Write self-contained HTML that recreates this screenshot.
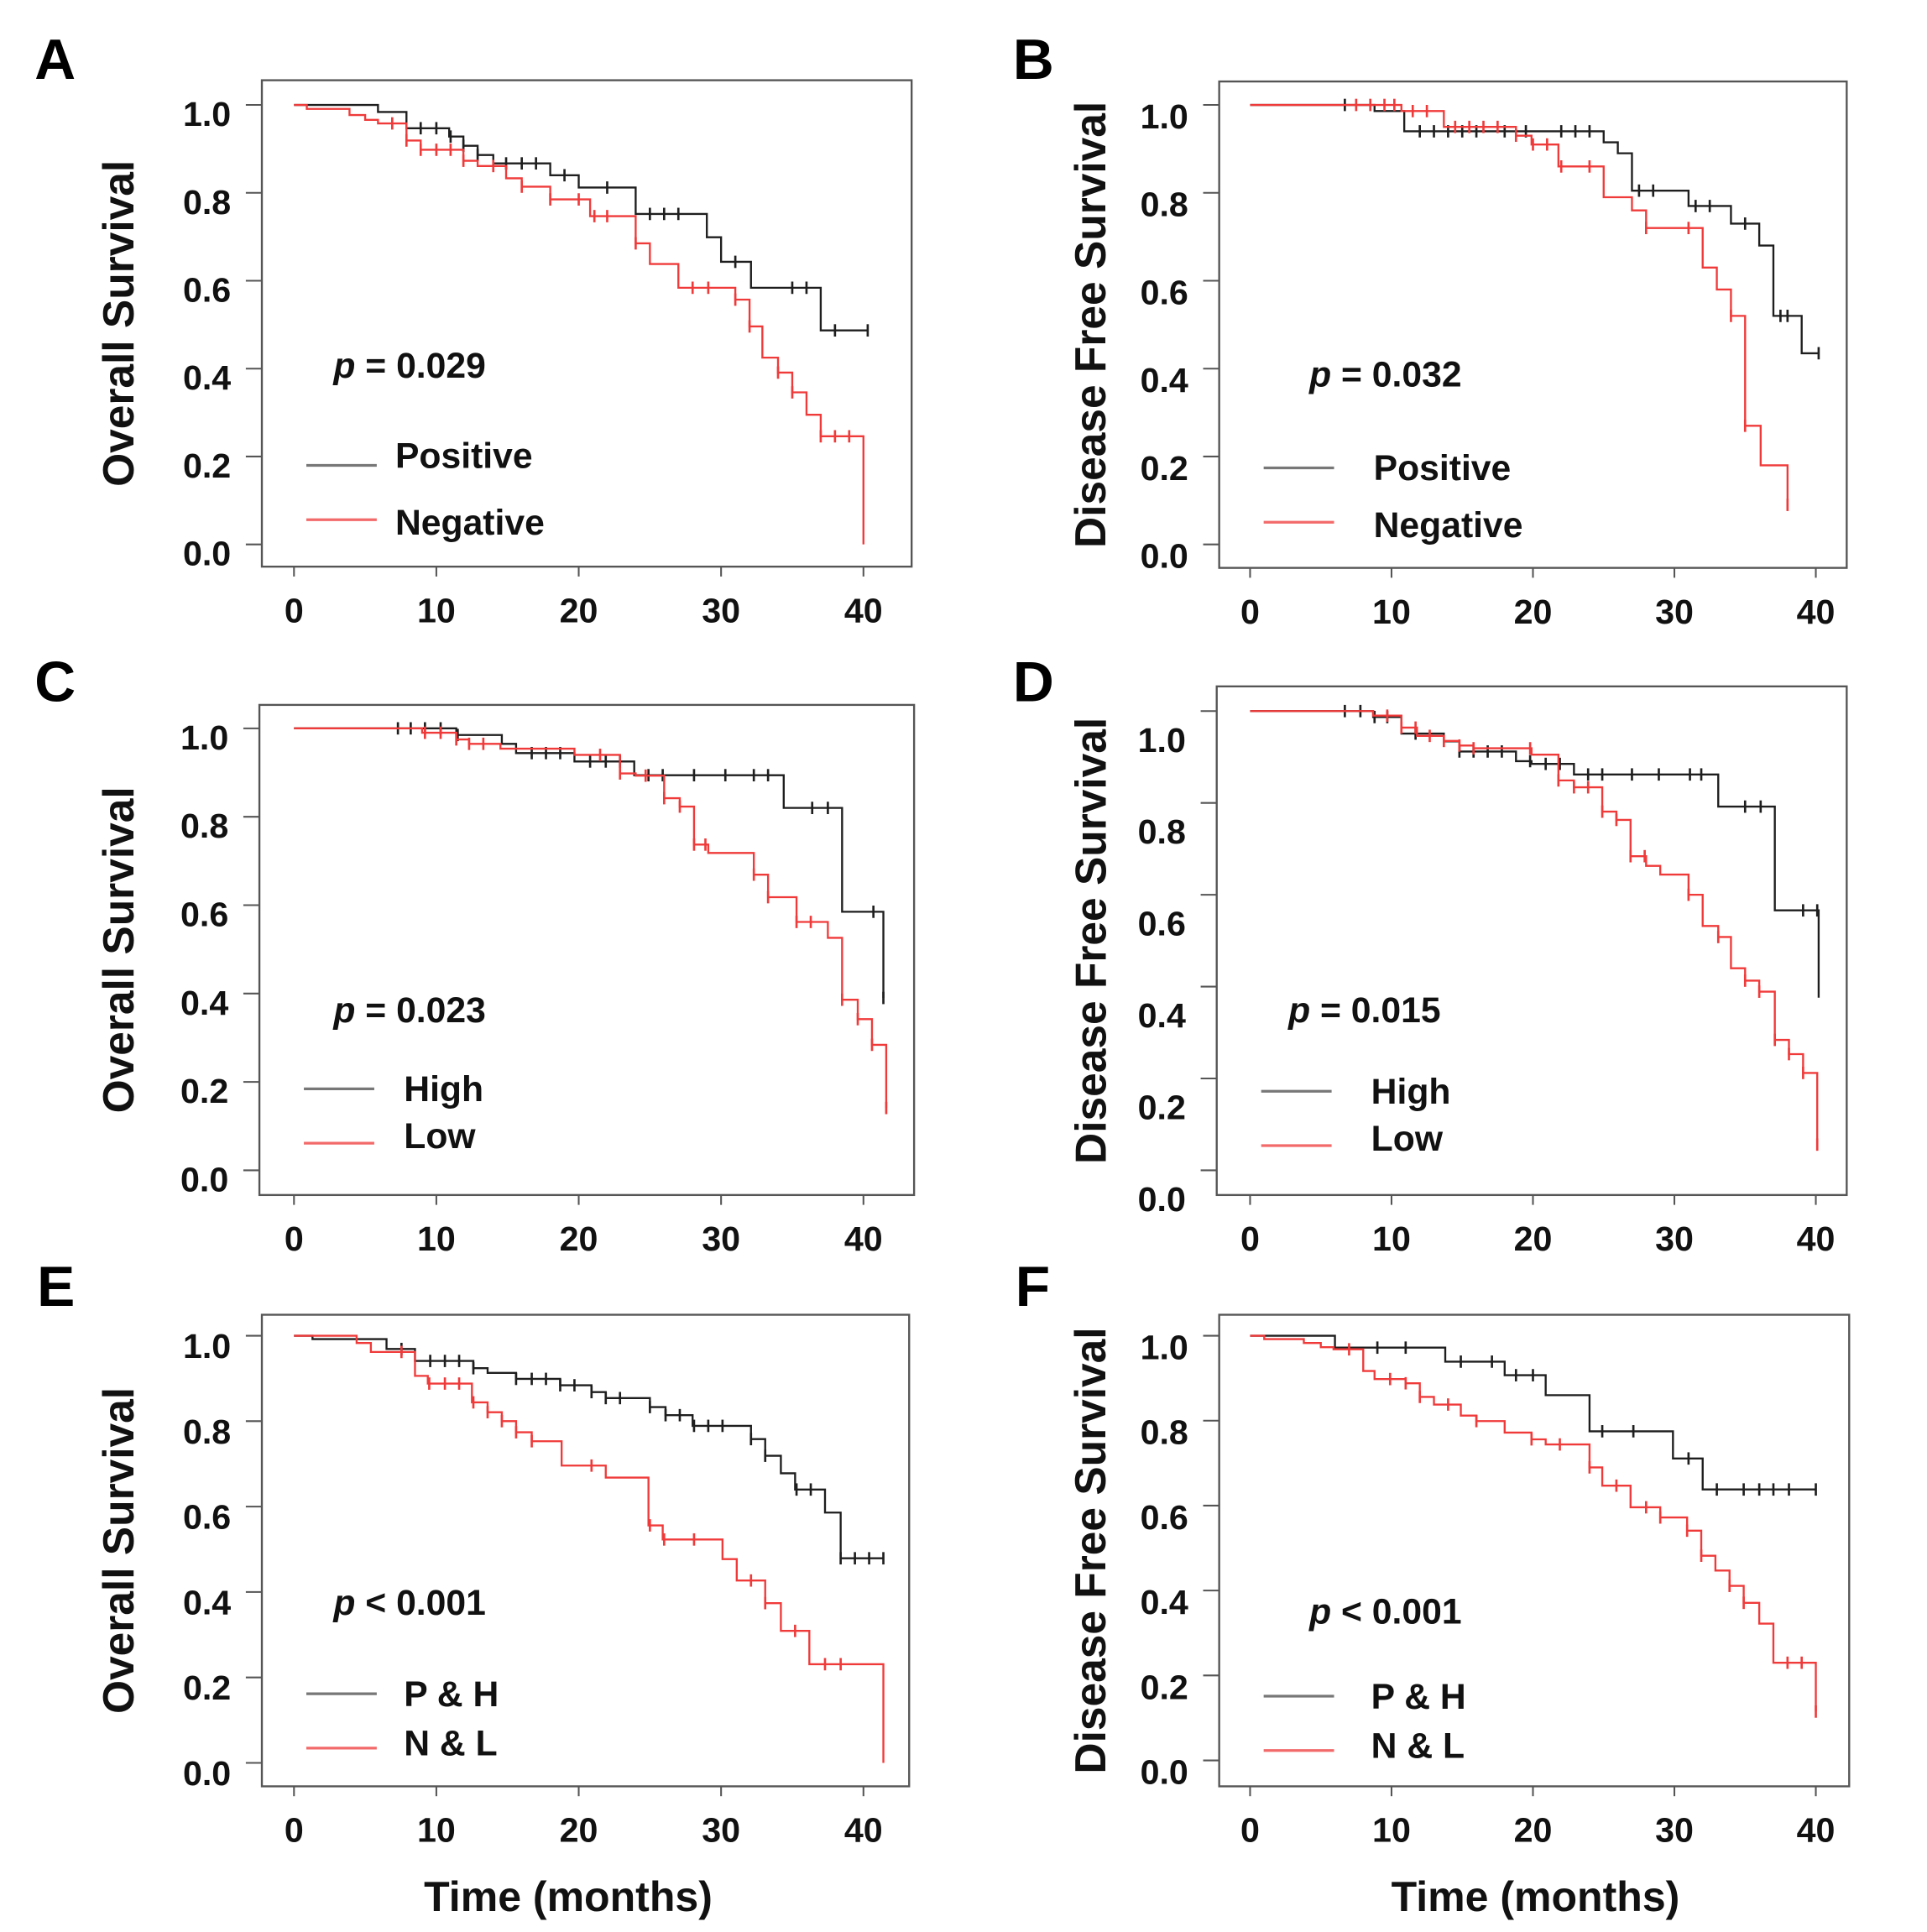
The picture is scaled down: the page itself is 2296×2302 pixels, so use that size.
<!DOCTYPE html>
<html><head><meta charset="utf-8"><style>
html,body{margin:0;padding:0;background:#fff;}
svg{display:block;font-family:"Liberation Sans",Arial,sans-serif;font-weight:bold;}
</style></head><body>
<svg id="fig" width="2296" height="2302" viewBox="0 0 1560 1565" preserveAspectRatio="none" xmlns="http://www.w3.org/2000/svg"></svg>
<script>
// ---- data (times in months, survival after each drop) ----
const xTicks = [0,10,20,30,40];
const yTicks = [0.0,0.2,0.4,0.6,0.8,1.0];

const A_pos_t = [5.9,7.9,10.9,11.9,12.9,14,18,20,24,29,30,32.1,37];
const A_pos_s = [0.984,0.947,0.928,0.907,0.886,0.867,0.84,0.812,0.752,0.699,0.643,0.584,0.487];
const A_pos_end = 40.3;
const A_pos_c = [8.9,10,11,11.9,12.9,14.9,16,17,19,22,25,26,27,31,35,36,38,40.3];
const A_neg_t = [0.9,3.9,5,5.9,7.9,8.9,11.9,12.9,14.9,16,18,20.8,24,25,27,31,32,32.9,34,35,36,37,40];
const A_neg_s = [0.991,0.977,0.966,0.958,0.919,0.898,0.873,0.861,0.833,0.814,0.785,0.747,0.685,0.638,0.584,0.557,0.496,0.425,0.391,0.346,0.295,0.246,0];
const A_neg_end = 40;
const A_neg_c = [6.9,7.9,8.9,10,11,11.9,14,16,18,20,21.1,22,24,28,29.1,31,32,34,35,37,38,39];

const B_pos_t = [8.8,10.9,25,26,27,31,34,36,37,39];
const B_pos_s = [0.986,0.94,0.915,0.89,0.805,0.77,0.73,0.68,0.52,0.435];
const B_pos_end = 40.2;
const B_pos_c = [6.7,12,13,14,15,16,18,19.5,22,23,24,27.5,28.5,31.5,32.5,35,37.5,38,40.2];
const B_neg_t = [10.7,13.7,18.8,19.9,21.8,25,27,28,32,33,34,35,36.1];
const B_neg_s = [0.986,0.95,0.93,0.91,0.86,0.79,0.76,0.72,0.63,0.58,0.52,0.27,0.18];
const B_neg_end = 38;
const B_neg_s_end = 0.09;
const B_neg_c = [7.5,8.5,9.5,10.2,11.5,12.5,14.5,15.5,16.5,17.5,18.8,20,21,22,24,28,31,34,35,38];

const C_high_t = [11.4,14.6,15.6,19.7,23.9,34.4,38.5,41.4];
const C_high_s = [0.985,0.965,0.944,0.925,0.894,0.82,0.585,0.39];
const C_high_end = 41.4;
const C_high_c = [7.3,8.2,9.2,10.3,11.5,16.7,17.7,18.7,20.8,21.9,22.9,24.9,25.9,28.1,30.3,32.3,33.3,36.4,37.5,40.7,41.4];
const C_low_t = [9,11.4,12.3,14.5,19.7,22.9,24,26,27.1,28.1,29.1,32.3,33.3,35.3,37.5,38.5,39.6,40.6,41.6];
const C_low_s = [0.99,0.975,0.965,0.954,0.94,0.898,0.893,0.842,0.823,0.737,0.718,0.669,0.618,0.562,0.526,0.386,0.342,0.284,0.141];
const C_low_end = 41.6;
const C_low_c = [9.2,10.3,11.4,12.3,13.3,21.5,22.9,24.7,26,27.1,28.1,28.9,32.3,33.3,35.3,36.3,38.5,39.6,40.6,41.6];

const D_high_t = [8.7,10.7,13.7,14.8,18.8,19.9,22.9,33.1,37.1,40.2];
const D_high_s = [0.987,0.951,0.934,0.912,0.891,0.885,0.862,0.792,0.566,0.376];
const D_high_end = 40.2;
const D_high_c = [6.7,7.8,8.8,9.7,11.7,14.8,15.8,16.8,17.8,19.8,20.9,21.9,23.9,24.9,27,28.9,31.1,31.9,35,36.1,39.1,40.1];
const D_low_t = [8.7,10.7,11.8,13.7,14.8,15.8,19.9,21.8,22.9,24.9,25.9,26.9,28,29,31,32,33.1,34,35,36,37.1,38.1,39.1,40.1];
const D_low_s = [0.99,0.964,0.946,0.935,0.925,0.919,0.905,0.849,0.834,0.781,0.763,0.684,0.663,0.644,0.6,0.532,0.508,0.44,0.413,0.389,0.284,0.253,0.212,0.056];
const D_low_end = 40.1;
const D_low_c = [9.7,10.7,11.7,12.7,13.7,14.8,15.8,19.8,21.8,22.9,23.9,24.9,25.9,26.9,27.9,31,33.1,35,36,37.1,38.1,39.1,40.1];

const E_ph_t = [1.3,6.5,8.5,12.6,13.6,15.6,18.7,20.9,21.9,25,26.1,28,32.1,33.1,34.2,35.2,37.3,38.4];
const E_ph_s = [0.992,0.969,0.941,0.924,0.913,0.899,0.884,0.868,0.854,0.833,0.814,0.789,0.758,0.719,0.678,0.64,0.586,0.479];
const E_ph_end = 41.4;
const E_ph_c = [7.55,9.57,10.6,11.6,12.6,15.6,16.7,17.7,18.7,19.7,20.9,21.9,22.9,25,26.1,27.1,28.1,29.1,30.1,32.1,33.1,35.3,36.3,38.4,39.4,40.4,41.4];
const E_nl_t = [4.4,5.4,8.5,9.4,12.5,13.6,14.6,15.6,16.7,18.8,21.9,24.9,25.9,30.1,31.1,33.1,34.2,36.2,41.4];
const E_nl_s = [0.983,0.962,0.906,0.888,0.844,0.821,0.8,0.774,0.753,0.696,0.668,0.556,0.523,0.477,0.427,0.374,0.309,0.231,0];
const E_nl_end = 41.4;
const E_nl_c = [7.55,9.5,10.6,11.6,12.6,13.6,14.6,15.6,16.7,20.9,25,26,28.1,32.1,33.1,35.2,37.3,38.4];

const F_ph_t = [6,13.8,18,20.9,24,29.9,32];
const F_ph_s = [0.972,0.939,0.907,0.86,0.775,0.711,0.638];
const F_ph_end = 40;
const F_ph_c = [9,11,14.9,17.1,18.8,20,24.9,27.1,31,33,34.9,36,37,38.1,40];
const F_nl_t = [1,3.8,5,5.9,8,8.8,11,12,13,14.9,16,18,19.9,20.9,24,24.9,26.9,29,30.9,31.9,32.9,33.9,34.9,36,37,40];
const F_nl_s = [0.992,0.983,0.973,0.968,0.917,0.898,0.888,0.856,0.838,0.812,0.799,0.772,0.756,0.744,0.69,0.647,0.596,0.572,0.541,0.482,0.447,0.411,0.371,0.322,0.23,0.115];
const F_nl_end = 40;
const F_nl_c = [7,9.9,11,12,14,16,19.9,21.9,24,25.9,28,29,30.9,31.9,33.9,34.9,38,39,40];

// ---- layout ----
const NS = "http://www.w3.org/2000/svg";
const svg = document.getElementById('fig');
function mk(tag, attrs, parent){
  const e = document.createElementNS(NS, tag);
  for (const k in attrs) e.setAttribute(k, attrs[k]);
  (parent||svg).appendChild(e);
  return e;
}
const BLACK = "#1e1e1e", RED = "#f03a3a";

const panels = [
  {id:'a', letter:'A', lx:28, ly:64, box:[212,65,738,459], x0:238, x40:699, y1:85, y0:441, lab:7, ytitle:'Overall Survival', ytx:96, p:'= 0.029', px:270, py:306, leg:['Positive','Negative'], legY:[377,421], legTx:320, legDy:[2,12],
   series:[[A_pos_t,A_pos_s,A_pos_end,A_pos_c,BLACK,null],[A_neg_t,A_neg_s,A_neg_end,A_neg_c,RED,null]]},
  {id:'b', letter:'B', lx:820, ly:64, box:[987,66,1495,460], x0:1012, x40:1470, y1:85, y0:441, lab:9, ytitle:'Disease Free Survival', ytx:883, p:'= 0.032', px:1060, py:313, leg:['Positive','Negative'], legY:[379,423], legTx:1112, legDy:[10,12],
   series:[[B_pos_t,B_pos_s,B_pos_end,B_pos_c,BLACK,null],[B_neg_t,B_neg_s,B_neg_end,B_neg_c,RED,B_neg_s_end]]},
  {id:'c', letter:'C', lx:28, ly:568, box:[210,571,740,968], x0:238, x40:699, y1:590, y0:948, lab:7, ytitle:'Overall Survival', ytx:96, p:'= 0.023', px:270, py:828, leg:['High','Low'], legY:[882,926], legTx:327, legDy:[10,4],
   series:[[C_high_t,C_high_s,C_high_end,C_high_c,BLACK,null],[C_low_t,C_low_s,C_low_end,C_low_c,RED,null]]},
  {id:'d', letter:'D', lx:820, ly:568, box:[985,556,1495,968], x0:1012, x40:1470, y1:576, y0:948, lab:23, ytitle:'Disease Free Survival', ytx:883, p:'= 0.015', px:1043, py:828, leg:['High','Low'], legY:[884,928], legTx:1110, legDy:[10,4],
   series:[[D_high_t,D_high_s,D_high_end,D_high_c,BLACK,null],[D_low_t,D_low_s,D_low_end,D_low_c,RED,null]]},
  {id:'e', letter:'E', lx:30, ly:1058, box:[212,1065,736,1447], x0:238, x40:699, y1:1082, y0:1428, lab:8, ytitle:'Overall Survival', ytx:96, p:'< 0.001', px:270, py:1308, leg:['P & H','N & L'], legY:[1372,1416], legTx:327, legDy:[10,6],
   series:[[E_ph_t,E_ph_s,E_ph_end,E_ph_c,BLACK,null],[E_nl_t,E_nl_s,E_nl_end,E_nl_c,RED,null]]},
  {id:'f', letter:'F', lx:822, ly:1058, box:[987,1065,1497,1447], x0:1012, x40:1470, y1:1082, y0:1426, lab:9, ytitle:'Disease Free Survival', ytx:883, p:'< 0.001', px:1060, py:1315, leg:['P & H','N & L'], legY:[1374,1418], legTx:1110, legDy:[10,6],
   series:[[F_ph_t,F_ph_s,F_ph_end,F_ph_c,BLACK,null],[F_nl_t,F_nl_s,F_nl_end,F_nl_c,RED,null]]}
];

panels.forEach(P => {
  const g = mk('g', {});
  
  
  const xs = t => P.x0 + (P.x40 - P.x0) * t / 40;
  const ys = s => P.y0 + (P.y1 - P.y0) * s;
  const [bl, bt, br, bb] = P.box;

  const letter = mk('text', {x:P.lx, y:P.ly, 'font-size':46, fill:'#000'}, g);
  letter.textContent = P.letter;
  
  

  const frame = mk('rect', {x:bl, y:bt, width:br-bl, height:bb-bt, fill:'none', stroke:'#555', 'stroke-width':1.6}, g);
  
  

  yTicks.forEach(v => {
    const y = ys(v);
    const tk = mk('line', {x1:bl-13, x2:bl, y1:y, y2:y, stroke:'#555', 'stroke-width':1.4}, g);
    
    
    const tl = mk('text', {x:bl-25, y:y+P.lab+10, 'font-size':28, 'text-anchor':'end', fill:'#111'}, g);
    tl.textContent = v.toFixed(1);
    
    
  });
  xTicks.forEach(v => {
    const x = xs(v);
    const tk = mk('line', {x1:x, x2:x, y1:bb, y2:bb+8, stroke:'#555', 'stroke-width':1.4}, g);
    
    
    const tl = mk('text', {x:x, y:bb+45, 'font-size':28, 'text-anchor':'middle', fill:'#111'}, g);
    tl.textContent = String(v);
    
    
  });

  const cy = (bt + bb) / 2;
  const yt = mk('text', {x:P.ytx, y:cy, 'font-size':35, 'text-anchor':'middle', fill:'#111', transform:`rotate(-90 ${P.ytx} ${cy})`, dy:12}, g);
  yt.textContent = P.ytitle;
  
  

  const pt = mk('text', {x:P.px, y:P.py, 'font-size':29, fill:'#111'}, g);
  const pi = mk('tspan', {'font-style':'italic'}, pt); pi.textContent = 'p';
  const pr = mk('tspan', {}, pt); pr.textContent = ' ' + P.p;
  
  

  P.series.forEach((S, i) => {
    const [ts, ss, tend, cs, col, sEnd] = S;
    let d = `M${xs(0)},${ys(1)}`;
    for (let k = 0; k < ts.length; k++) {
      d += ` H${xs(ts[k])} V${ys(ss[k])}`;
    }
    d += ` H${xs(tend)}`;
    if (sEnd !== null) d += ` V${ys(sEnd)}`;
    const path = mk('path', {d:d, fill:'none', stroke:col, 'stroke-width':1.6}, g);
    
    
    const survAt = t => { let v = 1; for (let k = 0; k < ts.length; k++) if (ts[k] <= t) v = ss[k]; if (sEnd !== null && t >= tend) v = sEnd; return v; };
    cs.forEach(t => {
      const x = xs(t), y = ys(survAt(t));
      const c = mk('line', {x1:x, x2:x, y1:y-5, y2:y+5, stroke:col, 'stroke-width':1.8}, g);
      
      
    });
    const ly = P.legY[i];
    const ll = mk('line', {x1:bl+36, x2:bl+93, y1:ly, y2:ly, stroke:i===0?'#777':'#f36a6a', 'stroke-width':2.2}, g);
    
    
    const lt = mk('text', {x:P.legTx, y:ly + P.legDy[i], 'font-size':29, fill:'#111'}, g);
    lt.textContent = P.leg[i];
    
    
  });
});

[[460,1548],[1243,1548]].forEach(([x,y]) => {
  const t = mk('text', {x:x, y:y, 'font-size':34, 'text-anchor':'middle', fill:'#111'});
  t.textContent = 'Time (months)';
  
  
});
</script>
</body></html>
